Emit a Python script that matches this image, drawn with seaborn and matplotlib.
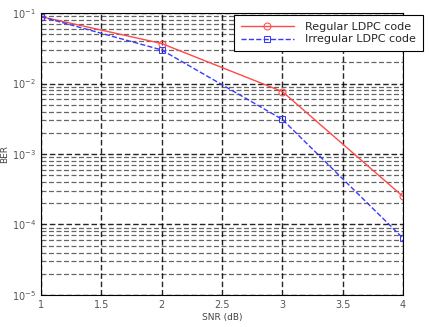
import matplotlib
matplotlib.use("Agg")
import matplotlib.pyplot as plt
import seaborn as sns
import pandas as pd
import numpy as np
from matplotlib.ticker import LogLocator, NullFormatter, FixedLocator

snr = [1, 2, 3, 4]
ber_regular = [0.089, 0.037, 0.0077, 2.5e-4]
ber_irregular = [0.089, 0.030, 0.0031, 6.4e-5]
x_ticks = [1, 1.5, 2, 2.5, 3, 3.5, 4]
y_ticks = [1e-5, 1e-4, 1e-3, 1e-2, 1e-1]
y_ticklabels = ["$10^{-5}$", "$10^{-4}$", "$10^{-3}$", "$10^{-2}$", "$10^{-1}$"]

sns.set_style("white")
plt.rcParams['font.family'] = ['DejaVu Sans']

fig = plt.figure(figsize=(4.31, 3.27), dpi=100)
ax = fig.add_axes([0.095, 0.098, 0.84, 0.862])

sns.lineplot(x=snr, y=ber_regular, ax=ax, color="#ff4a4a", linestyle="-",
             marker="o", markerfacecolor="none", markeredgecolor="#ff4a4a",
             markersize=5, linewidth=1.0, label="Regular LDPC code")
sns.lineplot(x=snr, y=ber_irregular, ax=ax, color="#3a3aff", linestyle="--",
             marker="s", markerfacecolor="none", markeredgecolor="#3a3aff",
             markersize=5, linewidth=1.0, label="Irregular LDPC code")

ax.set_yscale("log")
ax.set_xlim(1, 4)
ax.set_ylim(1e-5, 1e-1)
ax.set_xticks(x_ticks)
ax.set_xticklabels(["1", "1.5", "2", "2.5", "3", "3.5", "4"])
ax.set_yticks(y_ticks)
ax.set_yticklabels(y_ticklabels)
ax.yaxis.set_minor_locator(LogLocator(base=10, subs=np.arange(2, 10)))
ax.yaxis.set_minor_formatter(NullFormatter())
ax.tick_params(axis="both", labelsize=7, colors="#555555", direction="in", length=3)
ax.tick_params(axis="y", which="minor", length=1.5)
ax.set_xlabel("SNR (dB)", fontsize=6.5, color="#444444", labelpad=2)
ax.set_ylabel("BER", fontsize=6.5, color="#444444", labelpad=2)

ax.grid(which="major", axis="both", linestyle=(0, (4, 2)), color="black", linewidth=1.0, alpha=0.85)
ax.grid(which="minor", axis="y", linestyle=(0, (4, 2)), color="black", linewidth=0.9, alpha=0.6)
for s in ax.spines.values():
    s.set_color("black")
    s.set_linewidth(0.8)

leg = ax.legend(loc="upper left", bbox_to_anchor=(234/431, 1 - 15/327),
                bbox_transform=fig.transFigure, fontsize=8, frameon=True,
                fancybox=False, edgecolor="black", framealpha=1,
                borderpad=0.6, handlelength=4.8, handletextpad=1.0,
                labelspacing=0.25, borderaxespad=0)
leg.get_frame().set_linewidth(0.8)

fig.savefig("out.png", dpi=100, facecolor="white")
